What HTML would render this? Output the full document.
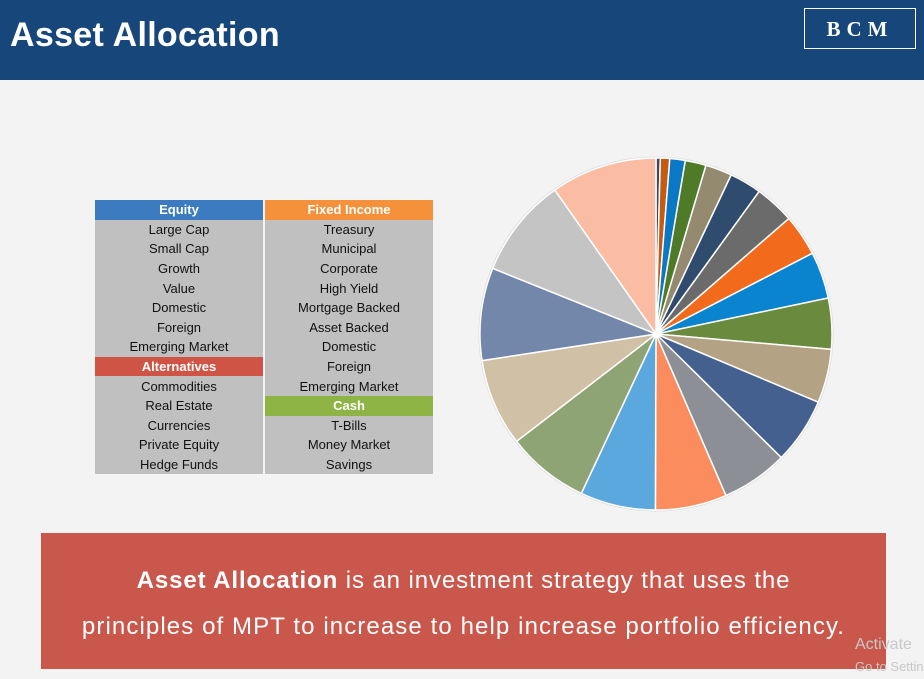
<!DOCTYPE html>
<html><head><meta charset="utf-8"><style>
body{margin:0;width:924px;height:679px;overflow:hidden;background:#f3f3f3;font-family:"Liberation Sans",sans-serif;position:relative}
.hdr{position:absolute;left:0;top:0;width:924px;height:80px;background:#17477a}
.title{position:absolute;left:10px;top:16px;color:#fff;font-weight:bold;font-size:34px;letter-spacing:0.3px}
.bcm{position:absolute;left:804px;top:8px;width:112px;height:41px;border:1.5px solid #fff;color:#fff;font-family:"Liberation Serif",serif;font-weight:bold;font-size:21px;letter-spacing:6px;text-align:center;line-height:41px;box-sizing:border-box}
table{position:absolute;left:95px;top:200px;border-collapse:collapse;font-size:13px;color:#111;table-layout:fixed}
td{width:168px;height:19.6px;padding:0;text-align:center;background:#c0c0c0;border-right:2px solid #f3f3f3;line-height:19px}
td.h{color:#fff;font-weight:bold}
.box{position:absolute;left:41px;top:533px;width:845px;height:136px;background:#c9574b;color:#fff;font-size:24px;text-align:center;white-space:nowrap}
.wm{position:absolute;left:855px;color:#c8c8c8;font-size:16px;white-space:nowrap}
</style></head><body>
<div class="hdr"></div>
<div class="title">Asset Allocation</div>
<div class="bcm">BCM</div>
<table>
<tr><td class="h" style="background:#3c7bbf">Equity</td><td class="h" style="background:#f5913a">Fixed Income</td></tr>
<tr><td>Large Cap</td><td>Treasury</td></tr>
<tr><td>Small Cap</td><td>Municipal</td></tr>
<tr><td>Growth</td><td>Corporate</td></tr>
<tr><td>Value</td><td>High Yield</td></tr>
<tr><td>Domestic</td><td>Mortgage Backed</td></tr>
<tr><td>Foreign</td><td>Asset Backed</td></tr>
<tr><td>Emerging Market</td><td>Domestic</td></tr>
<tr><td class="h" style="background:#cf5446">Alternatives</td><td>Foreign</td></tr>
<tr><td>Commodities</td><td>Emerging Market</td></tr>
<tr><td>Real Estate</td><td class="h" style="background:#8db444">Cash</td></tr>
<tr><td>Currencies</td><td>T-Bills</td></tr>
<tr><td>Private Equity</td><td>Money Market</td></tr>
<tr><td>Hedge Funds</td><td>Savings</td></tr>
</table>
<svg id="pie" width="924" height="679" style="position:absolute;left:0;top:0"></svg>
<div class="box">
<div style="position:absolute;left:0;right:0;top:34px;letter-spacing:0.9px"><b>Asset Allocation</b> is an investment strategy that uses the</div>
<div style="position:absolute;left:0;right:0;top:80px;letter-spacing:1.1px">principles of MPT to increase to help increase portfolio efficiency.</div>
</div>
<div class="wm" style="top:636px">Activate</div>
<div class="wm" style="top:659px;font-size:13px">Go to Settings</div>
<script>
const sliceValues=[1.4,3.1,5.1,6.9,8.8,10.6,13.1,13.7,15.5,16.8,17.8,21.8,22,23.6,24.9,27.3,28.9,30.6,33,35.1];
const sliceColors=["#3a4a5c","#c55a11","#0b78c4","#4f7a28","#948a6f","#2f4b6e","#6b6b6b","#f26a1b","#0b84d0","#6a8a3e","#b3a283","#44608e","#8c8f96","#fb8c5e","#5aa8dd","#8fa474","#cfc0a6","#7387ab","#c4c4c4","#fbbca4"];
const svg=document.getElementById('pie');
const cx=656,cy=334,r=176,NS='http://www.w3.org/2000/svg';
const total=sliceValues.reduce((a,b)=>a+b,0);
const bg=document.createElementNS(NS,'circle');
bg.setAttribute('cx',cx);bg.setAttribute('cy',cy);bg.setAttribute('r',r+1.5);bg.setAttribute('fill','#ddd');


svg.appendChild(bg);
let a=0;
function pt(t){return [cx+r*Math.sin(t),cy-r*Math.cos(t)];}
sliceValues.forEach((v,i)=>{
  const a0=a/total*2*Math.PI;a+=v;const a1=a/total*2*Math.PI;
  const p0=pt(a0),p1=pt(a1);
  const p=document.createElementNS(NS,'path');
  p.setAttribute('d',`M${cx},${cy}L${p0[0]},${p0[1]}A${r},${r} 0 ${a1-a0>Math.PI?1:0} 1 ${p1[0]},${p1[1]}Z`);
  p.setAttribute('fill',sliceColors[i]);p.setAttribute('stroke','#fff');p.setAttribute('stroke-width','1.5');
  
  
  svg.appendChild(p);
});
</script>
</body></html>
